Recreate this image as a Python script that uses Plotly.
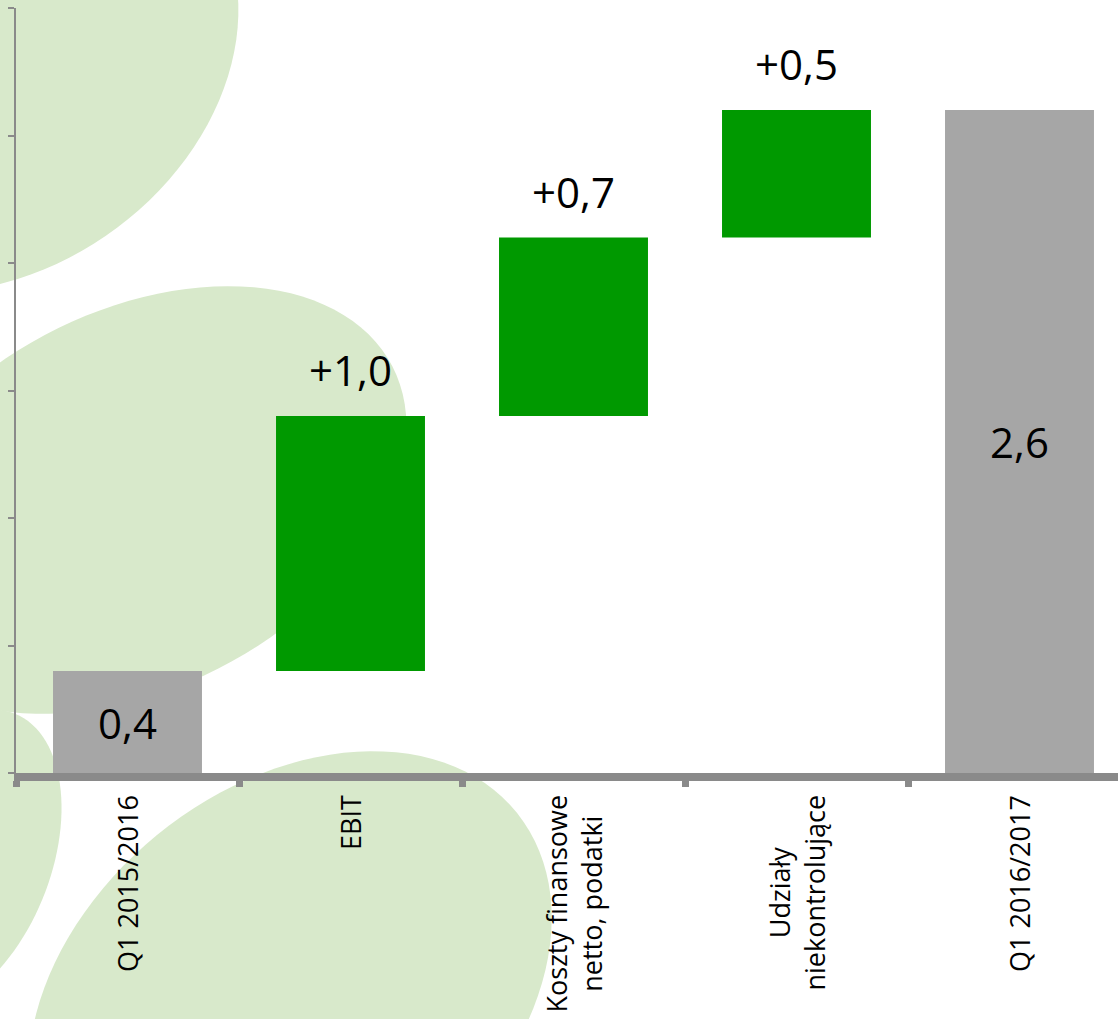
import numpy as np
import plotly.graph_objects as go

# ---------------- data ----------------
categories = ["Q1 2015/2016", "EBIT", "Koszty finansowe<br>netto, podatki",
              "Udziały<br>niekontrolujące", "Q1 2016/2017"]
values = [0.4, 1.0, 0.7, 0.5, 2.6]
measures = ["absolute", "relative", "relative", "relative", "total"]
y_ticks = [0, 0.5, 1.0, 1.5, 2.0, 2.5, 3.0]

GREEN = "#009900"
GRAY = "#a6a6a6"
AXIS = "#8a8a8a"
FONT = "Open Sans"

W, H = 1118, 1019
ML, MR, MT, MB = 16, 0, 8, 246
PW, PH = W - ML - MR, H - MT - MB


def fmt(v, signed=False):
    s = f"{v:.1f}".replace(".", ",")
    return ("+" + s) if signed and v > 0 else s


# running end level of each bar
ends = []
level = 0.0
for v, m in zip(values, measures):
    if m == "absolute":
        level = v
    elif m == "relative":
        level += v
    ends.append(level)

inside_text = [fmt(v) if m != "relative" else "" for v, m in zip(values, measures)]

fig = go.Figure()
fig.add_trace(go.Waterfall(
    x=categories, y=values, measure=measures,
    text=inside_text, textposition="inside", textangle=0,
    insidetextanchor="middle", constraintext="none",
    textfont=dict(family=FONT, size=42, color="black"),
    increasing=dict(marker=dict(color=GREEN, line=dict(width=0))),
    decreasing=dict(marker=dict(color="#c00000", line=dict(width=0))),
    totals=dict(marker=dict(color=GRAY, line=dict(width=0))),
    connector=dict(visible=False),
    hoverinfo="skip",
))

annotations = []
# value labels above relative bars
for c, v, m, e in zip(categories, values, measures, ends):
    if m == "relative":
        annotations.append(dict(
            x=c, y=e, xref="x", yref="y", text=fmt(v, signed=True),
            showarrow=False, yanchor="bottom", xanchor="center", yshift=16,
            font=dict(family=FONT, size=42, color="black")))
# category labels (rotated, centred lines)
for c in categories:
    annotations.append(dict(
        x=c, y=0, xref="x", yref="paper", text=c, textangle=-90,
        showarrow=False, yanchor="top", xanchor="center", align="center",
        yshift=-20, font=dict(family=FONT, size=27, color="black")))

# ---------------- decorative background ellipses (page pixel space) ----------------
def ellipse_path(cx, cy, a, b, theta_deg, n=120):
    t = np.linspace(0, 2 * np.pi, n)
    th = np.radians(theta_deg)
    px = cx + a * np.cos(t) * np.cos(th) - b * np.sin(t) * np.sin(th)
    py = cy - (a * np.cos(t) * np.sin(th) + b * np.sin(t) * np.cos(th))
    xs = (px - ML) / PW
    ys = 1 - (py - MT) / PH
    pts = [f"{x:.5f},{y:.5f}" for x, y in zip(xs, ys)]
    return "M" + " L".join(pts) + " Z"

deco = [
    (-12, 62, 268, 210, 35),
    (135, 500, 290, 188, 27.5),
    (290, 995, 291, 208, 38.7),
    (-45, 862, 160, 95, 68),
]
shapes = []
for cx, cy, a, b, th in deco:
    shapes.append(dict(type="path", xref="paper", yref="paper",
                       path=ellipse_path(cx, cy, a, b, th),
                       fillcolor="#d8e9cb", line=dict(width=0), layer="below"))

fig.update_layout(
    width=W, height=H,
    margin=dict(l=ML, r=MR, t=MT, b=MB, pad=0),
    paper_bgcolor="white", plot_bgcolor="rgba(0,0,0,0)",
    showlegend=False, waterfallgap=0.332,
    annotations=annotations, shapes=shapes,
    font=dict(family=FONT),
)
fig.update_xaxes(
    range=[-0.5, -0.5 + PW / 223.0], showticklabels=False,
    showline=True, linecolor=AXIS, linewidth=8,
    ticks="outside", tickson="boundaries", ticklen=6, tickwidth=7, tickcolor=AXIS,
    showgrid=False, zeroline=False, fixedrange=True,
)
fig.update_yaxes(
    range=[0, 3.0], tickvals=y_ticks, showticklabels=False,
    showline=True, linecolor=AXIS, linewidth=2,
    ticks="outside", ticklen=6, tickwidth=2, tickcolor=AXIS,
    showgrid=False, zeroline=False, fixedrange=True,
)

fig.write_html("out.html", config={"displayModeBar": False},
               post_script="document.body.style.margin='0px';")
